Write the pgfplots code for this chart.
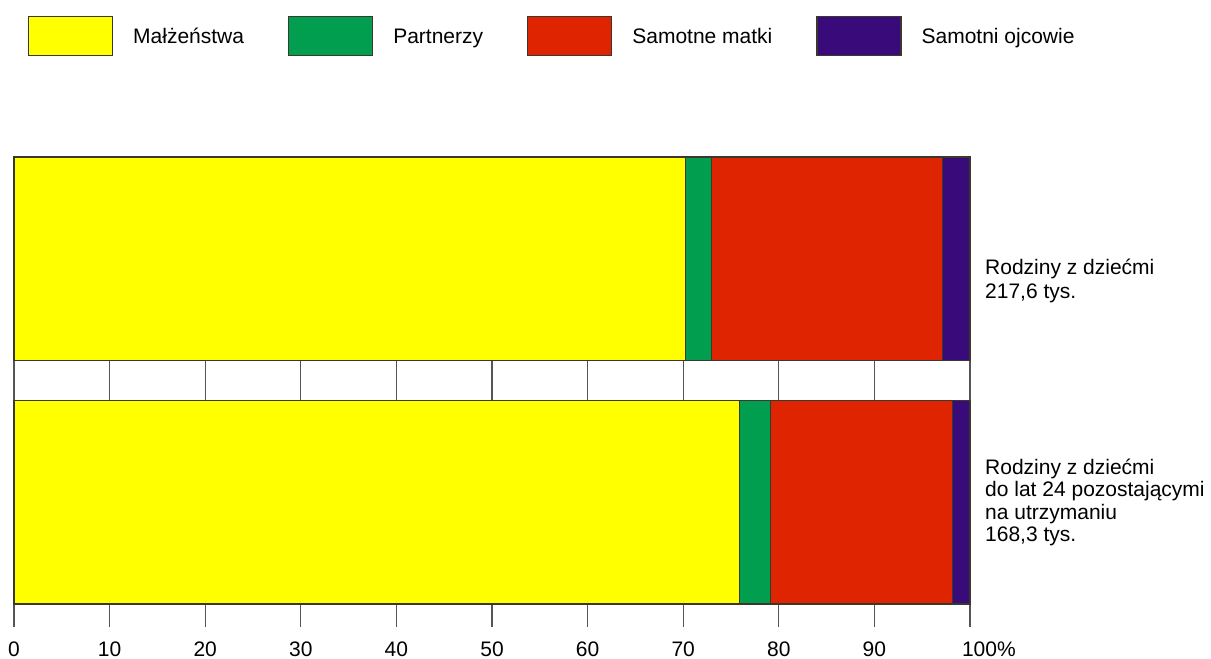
\documentclass[border=0pt]{standalone}
\usepackage{pgfplots}
\pgfplotsset{compat=1.18}
\usepackage{fontspec}
\setmainfont{Liberation Sans}
\definecolor{cyel}{RGB}{255,255,0}
\definecolor{cgrn}{RGB}{0,158,78}
\definecolor{cred}{RGB}{222,36,0}
\definecolor{cpur}{RGB}{56,10,122}
\definecolor{cgrid}{RGB}{85,85,85}
\definecolor{cedge}{RGB}{60,55,45}
\begin{document}
\fontsize{21bp}{24bp}\selectfont
\begin{tikzpicture}
\begin{axis}[
  scale only axis, width=956bp, height=447bp,
  at={(0,0)}, anchor=south west,
  xmin=0, xmax=100, ymin=-0.418, ymax=1.418,
  xbar stacked, bar width=0.836,
  axis x line*=bottom, axis y line=none,
  xtick={0,10,...,100},
  xticklabels={0,10,20,30,40,50,60,70,80,90,\makebox[0pt][l]{\hspace{-8bp}100\%}},
  ytick=\empty,
  xtick align=outside, major tick length=23bp,
  xmajorgrids, grid style={cgrid, line width=1.3bp},
  tick style={cgrid, line width=1.3bp},
  x axis line style={cedge, line width=1.2bp},
  tick label style={font=\fontsize{21bp}{24bp}\selectfont, inner sep=0pt},
  xticklabel style={yshift=-15bp},
  clip=false,
  legend columns=4,
  legend image code/.code={\draw[#1] (0bp,-12bp) rectangle (84bp,27bp);},
  legend style={at={(axis description cs:0,1)}, anchor=north west,
    xshift=14bp, yshift=141bp, draw=none, fill=none,
    inner sep=0pt, outer sep=0pt, nodes={inner sep=0pt},
    cells={anchor=base west},
    font=\fontsize{21bp}{24bp}\selectfont,
    /tikz/every odd column/.append style={column sep=20bp},
    /tikz/every even column/.append style={column sep=44bp}},
]
\addplot[fill=cyel, draw=cedge, line width=1.2bp] coordinates {(75.9,0) (70.2,1)};
\addlegendentry{Małżeństwa}
\addplot[fill=cgrn, draw=cedge, line width=1.2bp] coordinates {(3.2,0) (2.8,1)};
\addlegendentry{Partnerzy}
\addplot[fill=cred, draw=cedge, line width=1.2bp] coordinates {(19.1,0) (24.1,1)};
\addlegendentry{Samotne matki}
\addplot[fill=cpur, draw=cedge, line width=1.2bp] coordinates {(1.8,0) (2.9,1)};
\addlegendentry{Samotni ojcowie}
\node[anchor=west, align=left, inner sep=0pt, xshift=15bp,
  font=\fontsize{21bp}{24bp}\selectfont] at (axis cs:100,0.91)
  {Rodziny z dziećmi\\217,6 tys.};
\node[anchor=west, align=left, inner sep=0pt, xshift=15bp,
  font=\fontsize{21bp}{22.5bp}\selectfont] at (axis cs:100,0)
  {Rodziny z dziećmi\\do lat 24 pozostającymi\\na utrzymaniu\\168,3 tys.};
\end{axis}
\pgfresetboundingbox
\path[use as bounding box] (-14bp,-55bp) rectangle (1197bp,604bp);
\end{tikzpicture}
\end{document}
